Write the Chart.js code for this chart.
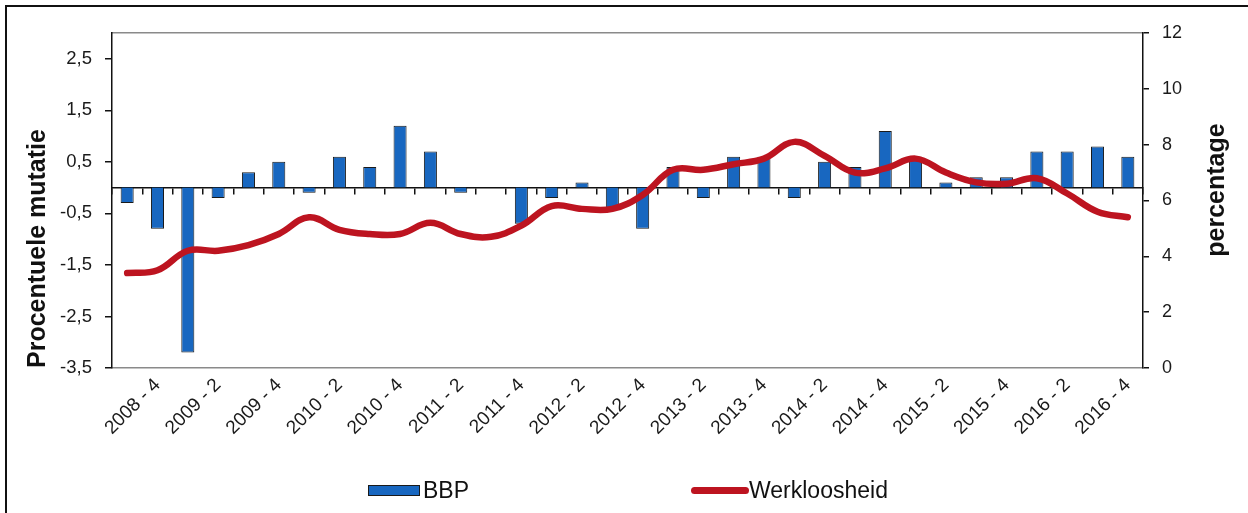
<!DOCTYPE html>
<html>
<head>
<meta charset="utf-8">
<script src="https://cdn.jsdelivr.net/npm/chart.js@4/dist/chart.umd.min.js"></script>
<style>
  html, body { margin: 0; padding: 0; background: #fff; }
  #wrap { position: relative; width: 1248px; height: 513px; overflow: hidden; font-family: 'Liberation Sans', Arial, sans-serif; }
  #c { position: absolute; left: 0; top: 0; }
  #frame { position: absolute; left: 5px; top: 5px; width: 1300px; height: 600px; border-left: 2px solid #111; border-top: 2px solid #111; pointer-events: none; }
  #rtitle { position: absolute; left: 1215px; top: 190px; transform: translate(-50%, -50%) rotate(-90deg); font-weight: bold; font-size: 25px; color: #111; white-space: nowrap; }
  .lg { position: absolute; font-size: 23px; color: #111; white-space: nowrap; line-height: 1; }
  .sw { position: absolute; box-sizing: border-box; }
</style>
</head>
<body>
<div id="wrap">
  <canvas id="c" width="1248" height="513"></canvas>
  <div id="frame"></div>
  <div id="rtitle"></div>
  <div id="legend"></div>
</div>
<script>
// ---- data ----
const categories = [
  "2008 - 3", "2008 - 4",
  "2009 - 1", "2009 - 2", "2009 - 3", "2009 - 4",
  "2010 - 1", "2010 - 2", "2010 - 3", "2010 - 4",
  "2011 - 1", "2011 - 2", "2011 - 3", "2011 - 4",
  "2012 - 1", "2012 - 2", "2012 - 3", "2012 - 4",
  "2013 - 1", "2013 - 2", "2013 - 3", "2013 - 4",
  "2014 - 1", "2014 - 2", "2014 - 3", "2014 - 4",
  "2015 - 1", "2015 - 2", "2015 - 3", "2015 - 4",
  "2016 - 1", "2016 - 2", "2016 - 3", "2016 - 4"
];
const bbp = [
  -0.3, -0.8,
  -3.2, -0.2, 0.3, 0.5,
  -0.1, 0.6, 0.4, 1.2,
  0.7, -0.1, 0.0, -0.7,
  -0.2, 0.1, -0.4, -0.8,
  0.4, -0.2, 0.6, 0.6,
  -0.2, 0.5, 0.4, 1.1,
  0.6, 0.1, 0.2, 0.2,
  0.7, 0.7, 0.8, 0.6
];
const werkloosheid = [
  3.4, 3.5,
  4.2, 4.2, 4.4, 4.8,
  5.4, 4.95, 4.8, 4.8,
  5.2, 4.8, 4.7, 5.1,
  5.8, 5.7, 5.7, 6.2,
  7.1, 7.1, 7.3, 7.5,
  8.1, 7.6, 7.0, 7.15,
  7.5, 7.0, 6.65, 6.6,
  6.8, 6.25, 5.6, 5.4
];
const leftTicks = [-3.5, -2.5, -1.5, -0.5, 0.5, 1.5, 2.5];
const rightTicks = [0, 2, 4, 6, 8, 10, 12];
const seriesNames = ["BBP", "Werkloosheid"];
const axisTitles = ["Procentuele mutatie", "percentage"];

// ---- style ----
const FONT = "'Liberation Sans', Arial, sans-serif";
const BLUE = '#1867c0';
const RED = '#bd1420';
Chart.defaults.font.family = FONT;
Chart.defaults.color = '#1a1a1a';

const chart = new Chart(document.getElementById('c'), {
  type: 'bar',
  data: {
    labels: categories,
    datasets: [
      {
        type: 'line',
        label: seriesNames[1],
        data: werkloosheid,
        yAxisID: 'y2',
        xAxisID: 'x',
        borderColor: RED,
        backgroundColor: RED,
        borderWidth: 6.5,
        borderCapStyle: 'round',
        borderJoinStyle: 'round',
        tension: 0.4,
        pointRadius: 0,
        fill: false,
        order: 0
      },
      {
        type: 'bar',
        label: seriesNames[0],
        data: bbp,
        yAxisID: 'y',
        xAxisID: 'x',
        backgroundColor: BLUE,
        borderColor: '#1a1a1a',
        borderWidth: 1,
        categoryPercentage: 1,
        barPercentage: 0.43,
        order: 1
      }
    ]
  },
  options: {
    responsive: false,
    animation: false,
    events: [],
    layout: { padding: { top: 33, left: 0, right: 0, bottom: 0 } },
    plugins: {
      legend: { display: false },
      tooltip: { enabled: false },
      title: { display: false }
    },
    scales: {
      x: {
        type: 'category',
        position: 'bottom',
        offset: true,
        grid: { display: true, drawOnChartArea: false, drawTicks: false, offset: true },
        border: { display: true, color: '#8a8a8a', width: 1.5 },
        ticks: {
          autoSkip: false,
          maxRotation: 45,
          minRotation: 45,
          padding: 6,
          font: { size: 19 },
          color: '#1a1a1a',
          callback: function (v, i) { return i % 2 === 1 ? this.getLabelForValue(v) : ''; }
        },
        afterFit: (s) => { s.height = 145; }
      },
      xTop: {
        type: 'category',
        position: 'top',
        offset: true,
        grid: { display: true, drawOnChartArea: false, drawTicks: false },
        border: { display: true, color: '#8a8a8a', width: 1.5 },
        ticks: { display: false },
        afterFit: (s) => { s.height = 0; }
      },
      x2: {
        type: 'category',
        position: { y: 0 },
        offset: true,
        grid: { display: true, drawOnChartArea: false, drawTicks: true, tickLength: 6, offset: true, color: '#111', lineWidth: 1.5 },
        border: { display: true, color: '#111', width: 1.5 },
        ticks: { display: false }
      },
      y: {
        type: 'linear',
        position: 'left',
        min: -3.5,
        max: 3.0,
        grid: { display: true, drawOnChartArea: false, drawTicks: true, tickLength: 7, color: '#111', lineWidth: 1.5 },
        border: { display: true, color: '#111', width: 1.5 },
        afterBuildTicks: (s) => { s.ticks = leftTicks.map(v => ({ value: v })); },
        ticks: {
          padding: 13,
          font: { size: 18.5 },
          color: '#1a1a1a',
          callback: (v) => Number(v).toFixed(1).replace('.', ',')
        },
        title: {
          display: true,
          text: axisTitles[0],
          align: 'start',
          font: { size: 25, weight: 'bold' },
          color: '#111',
          padding: { top: 23, bottom: 0 }
        },
        afterFit: (s) => { s.width = 112; }
      },
      y2: {
        type: 'linear',
        position: 'right',
        min: 0,
        max: 12,
        grid: { display: true, drawOnChartArea: false, drawTicks: true, tickLength: 6, color: '#111', lineWidth: 1.5 },
        border: { display: true, color: '#111', width: 1.5 },
        afterBuildTicks: (s) => { s.ticks = rightTicks.map(v => ({ value: v })); },
        ticks: {
          padding: 13,
          font: { size: 18 },
          color: '#1a1a1a'
        },
        afterFit: (s) => { s.width = 105; }
      }
    }
  }
});

// right axis title (reads bottom-to-top as in the original)
document.getElementById('rtitle').textContent = axisTitles[1];

// legend built from the chart's datasets
(function buildLegend() {
  const lg = document.getElementById('legend');
  const ds = chart.data.datasets;
  const bar = ds.find(d => d.type === 'bar');
  const line = ds.find(d => d.type === 'line');
  const items = [
    { d: bar, swLeft: 368, swTop: 485, swW: 52, swH: 11, textLeft: 423, kind: 'bar' },
    { d: line, swLeft: 691, swTop: 487, swW: 58, swH: 7, textLeft: 749, kind: 'line' }
  ];
  items.forEach(it => {
    const sw = document.createElement('div');
    sw.className = 'sw';
    sw.style.left = it.swLeft + 'px';
    sw.style.top = it.swTop + 'px';
    sw.style.width = it.swW + 'px';
    sw.style.height = it.swH + 'px';
    sw.style.background = it.d.backgroundColor;
    if (it.kind === 'bar') sw.style.border = '1px solid ' + it.d.borderColor;
    else sw.style.borderRadius = '4px';
    lg.appendChild(sw);
    const t = document.createElement('div');
    t.className = 'lg';
    t.style.left = it.textLeft + 'px';
    t.style.top = '479px';
    t.textContent = it.d.label;
    lg.appendChild(t);
  });
})();
</script>
</body>
</html>
